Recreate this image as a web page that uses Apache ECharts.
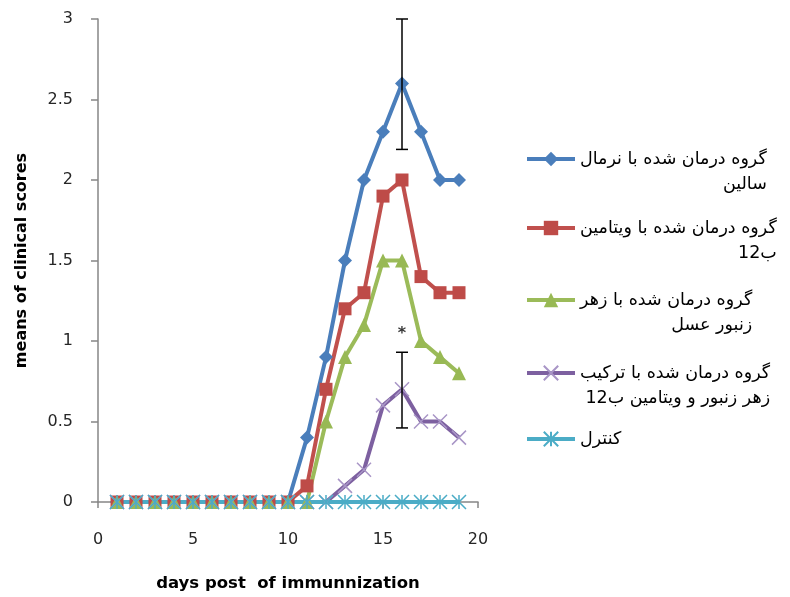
<!DOCTYPE html>
<html lang="fa">
<head>
<meta charset="UTF-8">
<title>means of clinical scores</title>
<script src="https://cdn.jsdelivr.net/npm/echarts@6/dist/echarts.min.js"></script>
<style>
  html, body { margin: 0; padding: 0; background: #fff; }
  #chart { width: 790px; height: 597px; }
</style>
</head>
<body>
<div id="chart"></div>
<script>
// days post immunization
var days = [1, 2, 3, 4, 5, 6, 7, 8, 9, 10, 11, 12, 13, 14, 15, 16, 17, 18, 19];

// mean clinical score per group
var normalSaline = [0, 0, 0, 0, 0, 0, 0, 0, 0, 0, 0.4, 0.9, 1.5, 2.0, 2.3, 2.6, 2.3, 2.0, 2.0];
var vitaminB12   = [0, 0, 0, 0, 0, 0, 0, 0, 0, 0, 0.1, 0.7, 1.2, 1.3, 1.9, 2.0, 1.4, 1.3, 1.3];
var beeVenom     = [0, 0, 0, 0, 0, 0, 0, 0, 0, 0, 0, 0.5, 0.9, 1.1, 1.5, 1.5, 1.0, 0.9, 0.8];
var combined     = [0, 0, 0, 0, 0, 0, 0, 0, 0, 0, 0, 0, 0.1, 0.2, 0.6, 0.7, 0.5, 0.5, 0.4];
var control      = [0, 0, 0, 0, 0, 0, 0, 0, 0, 0, 0, 0, 0, 0, 0, 0, 0, 0, 0];

var groupNames = [
  'گروه درمان شده با نرمال\nسالین',
  'گروه درمان شده با ویتامین\nب12',
  'گروه درمان شده با زهر\nزنبور عسل',
  'گروه درمان شده با ترکیب\nزهر زنبور و ویتامین ب12',
  'کنترل'
];

// error bars at day 16 (low, high)
var errDays = [16, 16];
var errLow  = [2.19, 0.46];
var errHigh = [3.0, 0.93];

// significance mark
var starPoint = [16, 1.06];

function pairs(ys) {
  return days.map(function (d, i) { return [d, ys[i]]; });
}

var crossPath = 'path://M0,0L10,10M10,0L0,10';
var starPath = 'path://M5,0L5,10M0,0L10,10M10,0L0,10';

var chart = echarts.init(document.getElementById('chart'));

var lineCommon = { type: 'line', smooth: false, z: 2 };

var series = [
  Object.assign({}, lineCommon, {
    name: groupNames[0], data: pairs(normalSaline),
    symbol: 'diamond', symbolSize: 14,
    lineStyle: { color: '#4a7ebb', width: 4 },
    itemStyle: { color: '#4a7ebb' }
  }),
  Object.assign({}, lineCommon, {
    name: groupNames[1], data: pairs(vitaminB12),
    symbol: 'rect', symbolSize: 13,
    lineStyle: { color: '#c0504d', width: 4 },
    itemStyle: { color: '#be4b48' }
  }),
  Object.assign({}, lineCommon, {
    name: groupNames[2], data: pairs(beeVenom),
    symbol: 'triangle', symbolSize: 14,
    lineStyle: { color: '#9bbb59', width: 4 },
    itemStyle: { color: '#98b954' }
  }),
  Object.assign({}, lineCommon, {
    name: groupNames[3], data: pairs(combined),
    symbol: crossPath, symbolSize: 14,
    lineStyle: { color: '#7d60a0', width: 4 },
    itemStyle: { color: 'rgba(0,0,0,0)', borderColor: '#a895c6', borderWidth: 1.5 }
  }),
  Object.assign({}, lineCommon, {
    name: groupNames[4], data: pairs(control),
    symbol: starPath, symbolSize: 14,
    lineStyle: { color: '#4bacc6', width: 4 },
    itemStyle: { color: 'rgba(0,0,0,0)', borderColor: '#4bacc6', borderWidth: 1.5 }
  }),
  {
    type: 'custom',
    z: 5,
    data: errDays.map(function (d, i) { return [d, errLow[i], errHigh[i]]; }),
    encode: { x: 0, y: [1, 2] },
    renderItem: function (params, api) {
      var top = api.coord([api.value(0), api.value(2)]);
      var bot = api.coord([api.value(0), api.value(1)]);
      var w = 6;
      var st = { stroke: '#000', lineWidth: 1.5 };
      return {
        type: 'group',
        children: [
          { type: 'line', shape: { x1: top[0], y1: top[1], x2: bot[0], y2: bot[1] }, style: st },
          { type: 'line', shape: { x1: top[0] - w, y1: top[1], x2: top[0] + w, y2: top[1] }, style: st },
          { type: 'line', shape: { x1: bot[0] - w, y1: bot[1], x2: bot[0] + w, y2: bot[1] }, style: st }
        ]
      };
    }
  },
  {
    type: 'scatter',
    z: 6,
    data: [starPoint],
    symbolSize: 1,
    itemStyle: { color: 'rgba(0,0,0,0)' },
    label: {
      show: true, position: 'inside', formatter: '*',
      color: '#000', fontSize: 16, fontWeight: 'bold', fontFamily: 'DejaVu Sans',
      offset: [0, 3]
    }
  }
];

// one legend block per group so each sits where it does in the figure
var legendTops = [150, 219, 291, 364, 430];
var legends = groupNames.map(function (n, i) {
  var twoLines = n.indexOf('\n') > -1;
  return {
    data: [n],
    orient: 'vertical',
    left: 525,
    top: legendTops[i],
    padding: 0,
    itemWidth: 48,
    itemHeight: 18,
    selectedMode: false,
    lineStyle: { width: 4 },
    formatter: function (name) {
      return name.split('\n').map(function (l) {
        return '{r|\u202B' + l + '\u202C}';
      }).join('\n');
    },
    textStyle: {
      color: '#000',
      padding: twoLines ? [25, 0, 0, 0] : 0,
      rich: {
        r: { align: 'right', fontSize: 17.5, lineHeight: 25, fontFamily: 'DejaVu Sans', color: '#000' }
      }
    }
  };
});

chart.setOption({
  animation: false,
  backgroundColor: '#fff',
  grid: { left: 98, right: 312, top: 19, bottom: 95 },
  legend: legends,
  xAxis: {
    type: 'value', min: 0, max: 20, interval: 5,
    name: 'days post  of immunnization',
    nameLocation: 'middle', nameGap: 73,
    nameTextStyle: { fontFamily: 'DejaVu Sans', fontWeight: 'bold', fontSize: 16.5, color: '#000' },
    axisLine: { lineStyle: { color: '#868686', width: 1.5 } },
    axisTick: { show: true, length: 6, lineStyle: { color: '#868686', width: 1.5 } },
    axisLabel: { margin: 30, fontFamily: 'DejaVu Sans', fontSize: 16, color: '#262626' },
    splitLine: { show: false }
  },
  yAxis: {
    type: 'value', min: 0, max: 3, interval: 0.5,
    name: 'means of clinical scores',
    nameLocation: 'middle', nameGap: 68, nameRotate: 90,
    nameTextStyle: { fontFamily: 'DejaVu Sans', fontWeight: 'bold', fontSize: 16, color: '#000' },
    axisLine: { show: true, lineStyle: { color: '#868686', width: 1.5 } },
    axisTick: { show: true, length: 7, lineStyle: { color: '#868686', width: 1.5 } },
    axisLabel: { margin: 25, fontFamily: 'DejaVu Sans', fontSize: 16, color: '#262626' },
    splitLine: { show: false }
  },
  series: series
});
</script>
</body>
</html>
